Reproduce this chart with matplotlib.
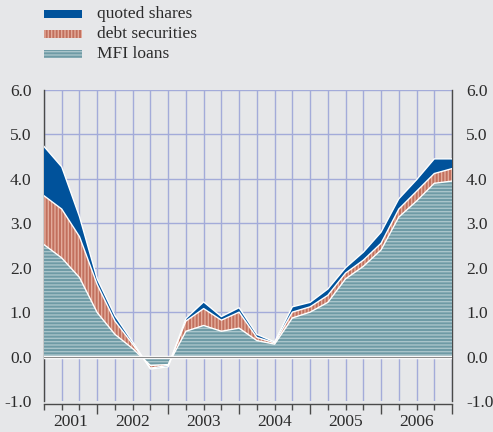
import numpy as np
import matplotlib
matplotlib.use("Agg")
import matplotlib.pyplot as plt
from matplotlib.patches import Rectangle

plt.rcParams['font.family'] = ['Liberation Serif', 'DejaVu Serif']
plt.rcParams['hatch.linewidth'] = 1.0

# quarterly points, 2001 -> 2006
quarters = np.arange(24)
mfi_loans = [2.52, 2.22, 1.78, 0.99, 0.50, 0.18, -0.20, -0.18, 0.57, 0.70, 0.57, 0.64,
             0.36, 0.28, 0.87, 1.00, 1.22, 1.75, 2.03, 2.40, 3.14, 3.50, 3.90, 3.95]
debt_securities = [1.10, 1.10, 0.92, 0.63, 0.30, 0.10, -0.06, -0.02, 0.23, 0.38, 0.25, 0.36,
                   0.07, 0.03, 0.13, 0.12, 0.16, 0.13, 0.14, 0.15, 0.18, 0.22, 0.22, 0.28]
quoted_shares = [1.11, 0.95, 0.45, 0.13, 0.12, 0.05, -0.02, -0.03, 0.06, 0.15, 0.08, 0.10,
                 0.07, 0.02, 0.12, 0.10, 0.14, 0.12, 0.18, 0.25, 0.23, 0.26, 0.33, 0.22]
years = ['2001', '2002', '2003', '2004', '2005', '2006']
year_pos = [1.5, 5, 9, 13, 17, 21]
year_edges = [3, 7, 11, 15, 19, 23]
yticks = [-1.0, 0.0, 1.0, 2.0, 3.0, 4.0, 5.0, 6.0]

bg = '#e6e7e9'
grid_c = '#a3abd9'
spine_c = '#4a4a4a'
txt_c = '#2b2b2b'
blue = '#00529b'
red_fc, red_hc = '#c2705e', '#e3ab9b'
teal_fc, teal_hc = '#6e9aa5', '#a9c4ca'

fig = plt.figure(figsize=(4.93, 4.32), dpi=100, facecolor=bg)
ax = fig.add_axes([44 / 493, 31 / 432, 408 / 493, 311 / 432], facecolor=bg)

c1 = np.array(mfi_loans)
c2 = c1 + np.array(debt_securities)
c3 = c2 + np.array(quoted_shares)

ax.fill_between(quarters, 0, c1, facecolor=teal_fc, edgecolor=teal_hc, hatch='-----', lw=0, zorder=3)
ax.fill_between(quarters, c1, c2, facecolor=red_fc, edgecolor=red_hc, hatch='|||||', lw=0, zorder=3)
ax.fill_between(quarters, c2, c3, facecolor=blue, lw=0, zorder=3)
for c in (c1, c2, c3):
    ax.plot(quarters, c, color='white', lw=1, zorder=4)

ax.axhline(0, color='white', lw=2.5, zorder=5)
ax.axhline(0, color='#8c8c8c', lw=0.8, zorder=5)

ax.set_xlim(0, 23)
ax.set_ylim(-1, 6)

for x in quarters:
    ax.axvline(x, color=grid_c, lw=1, zorder=1)
for y in yticks[2:]:
    ax.axhline(y, color=grid_c, lw=1, zorder=1)

ax.set_yticks(yticks)
ax.set_yticklabels(['%.1f' % v for v in yticks], fontsize=12.5, color=txt_c)
ax.tick_params(axis='y', length=0, pad=9, left=True, right=True, labelleft=True, labelright=True)
# right-side labels sit a little further out
for t in ax.yaxis.get_major_ticks():
    t.label2.set_x(1.0 + 14 / 408)
    t.label2.set_transform(ax.get_yaxis_transform())

ax.set_xticks(quarters, minor=True)
ax.set_xticks(year_edges)
ax.set_xticklabels([])
ax.tick_params(axis='x', which='minor', length=4, width=1, color=spine_c, direction='out')
ax.tick_params(axis='x', which='major', length=7, width=1, color=spine_c, direction='out')
for xp, yr in zip(year_pos, years):
    ax.text(xp, -1.29, yr, ha='center', va='top', fontsize=12.5, color=txt_c)

for s in ['left', 'right', 'bottom']:
    ax.spines[s].set_color(spine_c)
    ax.spines[s].set_linewidth(1)
ax.spines['bottom'].set_position(('outward', 2))
ax.spines['top'].set_visible(False)

# legend drawn by hand
leg_labels = ['quoted shares', 'debt securities', 'MFI loans']
leg_rows = [14, 34, 54]
leg_styles = [(blue, None, None), (red_fc, red_hc, '|||||'), (teal_fc, teal_hc, '-----')]
for lab, yc, (fc, hc, h) in zip(leg_labels, leg_rows, leg_styles):
    fig.add_artist(Rectangle((44 / 493, 1 - (yc + 3.5) / 432), 38 / 493, 7 / 432,
                             transform=fig.transFigure, facecolor=fc,
                             edgecolor=hc if hc else fc, hatch=h, lw=0))
    fig.text(97 / 493, 1 - yc / 432, lab, ha='left', va='center', fontsize=12.5, color=txt_c)

fig.savefig('out.png', dpi=100, facecolor=bg)
